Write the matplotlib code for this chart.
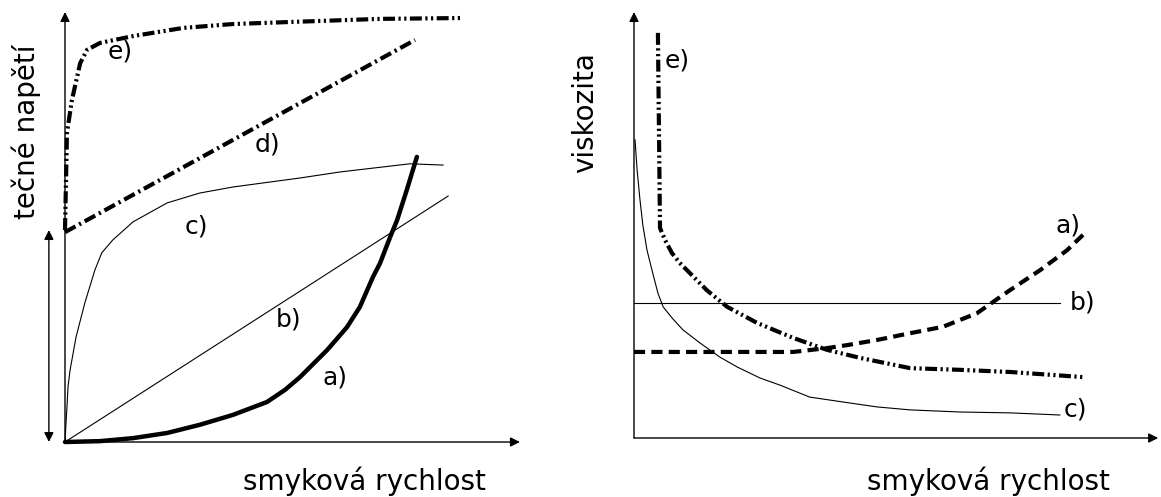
# Flow curves (shear stress vs. shear rate) and viscosity curves for
# different fluid types, drawn as two schematic panels side by side.

import matplotlib.pyplot as plt

plt.rcParams['font.family'] = ['DejaVu Sans']
plt.rcParams['lines.scale_dashes'] = False

# --- left panel: shear stress vs. shear rate (schematic units 0..100) ---
# a) dilatant
stress_a_x = [0, 7.6, 14.8, 22.2, 29.3, 36.5, 43.9, 47.8, 51.1, 57.0, 61.3, 64.1,
              66.96, 68.5, 70.7, 72.2, 74.3, 76.5]
stress_a_y = [0, 0.2, 0.9, 2.1, 4.0, 6.3, 9.3, 12.1, 15.1, 21.4, 26.7, 31.4,
              38.4, 41.6, 47.7, 51.6, 58.6, 66.3]
# b) newtonian
stress_b_x = [0, 83.3]
stress_b_y = [0, 57.2]
# c) pseudoplastic
stress_c_x = [0, 0.2, 0.43, 0.65, 1.1, 2.4, 4.3, 6.5, 8.0, 10.4, 14.8, 22.2, 29.3,
              36.5, 51.1, 59.8, 75.0, 82.2]
stress_c_y = [0, 4.0, 8.1, 12.8, 16.7, 24.4, 32.3, 40.0, 44.0, 47.0, 51.2, 55.6, 57.9,
              59.3, 61.4, 62.8, 64.7, 64.4]
# d) bingham plastic
stress_d_x = [0, 76.1]
stress_d_y = [48.8, 93.5]
# e) plastic with yield
stress_e_x = [0, 0.43, 1.5, 3.3, 4.8, 7.6, 14.8, 25.7, 36.5, 49.6, 68.5, 86.3]
stress_e_y = [49.3, 71.9, 79.5, 88.1, 91.2, 92.8, 94.4, 96.3, 97.2, 97.7, 98.4, 98.6]
yield_range = [0, 49.3]

# --- right panel: viscosity vs. shear rate ---
visc_a_x = [0, 12.7, 24.2, 30.6, 37.1, 40.96, 46.7, 53.1, 59.4, 65.96, 72.3, 78.1, 83.3, 86.7]
visc_a_y = [20.2, 20.2, 20.2, 20.2, 21.1, 21.8, 23.0, 24.6, 26.1, 29.3, 34.7, 39.4, 44.1, 48.1]
visc_b_x = [0, 81.9]
visc_b_y = [31.7, 31.7]
visc_c_x = [0.2, 0.6, 1.15, 1.7, 2.5, 3.46, 4.6, 5.6, 7.3, 9.4, 12.7, 16.5, 19.8, 24.2,
            28.1, 33.8, 40.2, 46.7, 53.1, 62.7, 72.3, 81.9]
visc_c_y = [70.0, 62.9, 55.9, 50.0, 44.1, 39.4, 34.0, 30.8, 28.2, 25.4, 22.3, 19.0, 16.7, 14.1,
            12.4, 9.6, 8.45, 7.3, 6.6, 6.1, 5.9, 5.4]
visc_e_x = [4.6, 4.8, 5.0, 5.96, 7.3, 8.8, 14.0, 17.9, 23.7, 30.6, 37.1, 43.5, 53.1, 62.7,
            72.3, 86.3]
visc_e_y = [95.1, 72.3, 49.3, 46.5, 43.4, 41.1, 34.7, 30.8, 27.0, 23.5, 20.7, 18.8, 16.4, 16.0,
            15.5, 14.3]

curve_labels = ['a)', 'b)', 'c)', 'd)', 'e)']

W, H = 1161, 497
fig = plt.figure(figsize=(W / 100, H / 100), dpi=100)

ax1 = fig.add_axes([0, 0, 580 / W, 1])
ax2 = fig.add_axes([580 / W, 0, 581 / W, 1])
ax1.set_xlim(-14.13, 111.96)
ax1.set_ylim(-12.79, 102.79)
ax2.set_xlim(-10.385, 101.35)
ax2.set_ylim(-13.85, 102.82)
for ax in (ax1, ax2):
    ax.axis('off')

dash_dot = (0, (8.6, 3.0, 1.6, 3.0))
dash_dot_dot = (0, (8.6, 2.5, 1.6, 2.5, 1.6, 2.5))
dashed = (0, (8.0, 4.5))


def axis_arrow(ax, start, end, style='-|>'):
    ax.annotate('', xy=end, xytext=start,
                arrowprops=dict(arrowstyle=style, color='black', lw=1.0,
                                mutation_scale=14, shrinkA=0, shrinkB=0))


# left panel
axis_arrow(ax1, (0, 0), (98.9, 0))
axis_arrow(ax1, (0, 0), (0, 100))
axis_arrow(ax1, (-3.5, yield_range[0]), (-3.5, yield_range[1]), style='<|-|>')

ax1.plot(stress_a_x, stress_a_y, color='black', lw=3.2, solid_capstyle='round')
ax1.plot(stress_b_x, stress_b_y, color='black', lw=0.8)
ax1.plot(stress_c_x, stress_c_y, color='black', lw=0.8)
ax1.plot(stress_d_x, stress_d_y, color='black', lw=3.0, linestyle=dash_dot)
ax1.plot(stress_e_x, stress_e_y, color='black', lw=3.0, linestyle=dash_dot_dot)

label_kw = dict(fontsize=18, ha='center', va='center')
ax1.text(58.7, 15.1, curve_labels[0], **label_kw)
ax1.text(48.5, 28.4, curve_labels[1], **label_kw)
ax1.text(28.5, 50.2, curve_labels[2], **label_kw)
ax1.text(44.1, 69.1, curve_labels[3], **label_kw)
ax1.text(12.0, 90.7, curve_labels[4], **label_kw)

ax1.text(-8.5, 72.2, 'tečné napětí', rotation=90, fontsize=20, ha='center', va='center')
ax1.text(65.0, -9.1, 'smyková rychlost', fontsize=20, ha='center', va='center')

# right panel
axis_arrow(ax2, (0, 0), (100.8, 0))
axis_arrow(ax2, (0, 0), (0, 100))

ax2.plot(visc_a_x, visc_a_y, color='black', lw=3.0, linestyle=dashed)
ax2.plot(visc_b_x, visc_b_y, color='black', lw=0.8)
ax2.plot(visc_c_x, visc_c_y, color='black', lw=0.8)
ax2.plot(visc_e_x, visc_e_y, color='black', lw=3.0, linestyle=dash_dot_dot)

ax2.text(83.5, 50.0, curve_labels[0], **label_kw)
ax2.text(86.2, 31.7, curve_labels[1], **label_kw)
ax2.text(84.8, 6.6, curve_labels[2], **label_kw)
ax2.text(8.3, 88.7, curve_labels[4], **label_kw)

ax2.text(-9.4, 76.3, 'viskozita', rotation=90, fontsize=20, ha='center', va='center')
ax2.text(68.1, -10.1, 'smyková rychlost', fontsize=20, ha='center', va='center')

fig.savefig('out.png', dpi=100, facecolor='white')
